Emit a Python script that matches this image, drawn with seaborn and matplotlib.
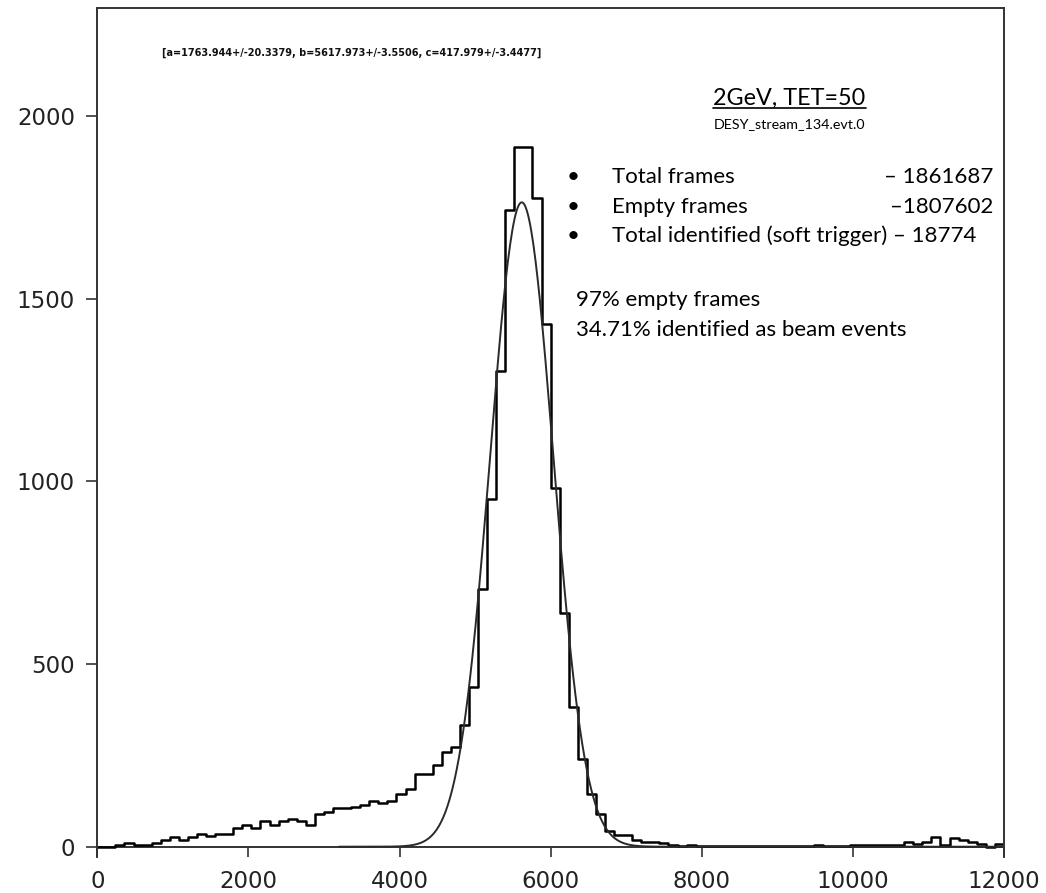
import numpy as np
import pandas as pd
import matplotlib
matplotlib.use("Agg")
import matplotlib.pyplot as plt
from matplotlib.lines import Line2D
import seaborn as sns

# histogram: 100 bins of width 120 between 0 and 12000
bin_edges = list(range(0, 12001, 120))
counts = [
    0, 0, 5, 11, 5, 5, 11, 17, 26, 17,
    26, 35, 30, 35, 35, 51, 60, 51, 71, 60,
    71, 75, 71, 60, 90, 96, 105, 105, 110, 114,
    125, 119, 125, 144, 159, 200, 200, 224, 260, 274,
    333, 437, 705, 952, 1303, 1742, 1916, 1916, 1776, 1431,
    983, 640, 382, 240, 145, 90, 44, 31, 31, 19,
    14, 14, 10, 5, 3, 5, 3, 2, 2, 2,
    2, 2, 2, 2, 2, 2, 2, 2, 2, 6,
    2, 2, 2, 6, 6, 6, 6, 6, 6, 14,
    7, 14, 27, 6, 23, 18, 14, 7, 0, 7,
]

# gaussian fit result printed on the plot
fit_a, fit_b, fit_c = 1763.944, 5617.973, 417.979
fit_err = (20.3379, 3.5506, 3.4477)
fit_xmin, fit_xmax = 3200, 12000

title = "2GeV, TET=50"
subtitle = "DESY_stream_134.evt.0"
bullets = [("Total frames", "\u2013 1861687"),
           ("Empty frames", "\u20131807602"),
           ("Total identified (soft trigger) \u2013 18774", "")]
notes = ["97% empty frames", "34.71% identified as beam events"]

sns.set_style("white")
plt.rcParams["font.family"] = ["DejaVu Sans"]

fig = plt.figure(figsize=(10.46, 8.93), dpi=100)
ax = fig.add_axes([0.0930, 0.0408, 0.8668, 0.9499])

hist_df = pd.DataFrame({"x": [e + 60 for e in bin_edges[:-1]], "count": counts})
sns.histplot(data=hist_df, x="x", weights="count", bins=bin_edges,
             element="step", fill=False, color="black", linewidth=1.8, ax=ax)

xf = np.linspace(fit_xmin, fit_xmax, 600)
yf = fit_a * np.exp(-(xf - fit_b) ** 2 / (2 * fit_c ** 2))
sns.lineplot(x=xf, y=yf, color="#2a2a2a", linewidth=1.4, ax=ax)

ax.set_xlim(0, 12000)
ax.set_ylim(-27, 2295)
ax.set_xticks(range(0, 12001, 2000))
ax.set_yticks(range(0, 2001, 500))
ax.set_xlabel("")
ax.set_ylabel("")
for s in ["left", "right", "top"]:
    ax.spines[s].set_color("#333333")
    ax.spines[s].set_linewidth(1.4)
ax.spines["bottom"].set_visible(False)
ax.axhline(0, color="#333333", linewidth=1.4, zorder=1)
ax.tick_params(axis="x", direction="in", length=7.3, width=1.2, color="#333333",
               labelsize=16.5, pad=10, bottom=True)
ax.tick_params(axis="y", direction="out", length=8, width=1.2, color="#333333",
               labelsize=16.5, pad=8, left=True)
for lab in ax.get_xticklabels() + ax.get_yticklabels():
    lab.set_color("#222222")

fit_txt = (f"[a={fit_a}+/-{fit_err[0]}, b={fit_b}+/-{fit_err[1]}, "
           f"c={fit_c}+/-{fit_err[2]}]")
ax.text(858, 2173, fit_txt, fontsize=7, fontweight="bold", va="center",
        ha="left", color="#111111", family=["DejaVu Sans"])

tfont = ["Lato", "DejaVu Sans"]
t = ax.text(9161, 2048, title, fontsize=16.8, ha="center", va="center",
            family=tfont, color="black")
ax.text(9161, 1978, subtitle, fontsize=10.3, ha="center", va="center",
        family=tfont, color="black")

fig.canvas.draw()
bb = t.get_window_extent(fig.canvas.get_renderer())
fig.add_artist(Line2D([bb.x0, bb.x1], [bb.y0 + 1, bb.y0 + 1], color="black",
                      linewidth=1.2, transform=None))

ys = [1834, 1752, 1672]
for (lbl, val), y in zip(bullets, ys):
    ax.text(6300, y, "\u2022", fontsize=16, ha="center", va="center",
            family=tfont, color="black")
    ax.text(6808, y, lbl, fontsize=16, ha="left", va="center", family=tfont,
            color="black")
    if val:
        ax.text(11858, y, val, fontsize=16, ha="right", va="center",
                family=tfont, color="black")

ax.text(6336, 1496, notes[0], fontsize=16, ha="left", va="center",
        family=tfont, color="black")
ax.text(6336, 1414, notes[1], fontsize=16, ha="left", va="center",
        family=tfont, color="black")

fig.savefig("out.png", dpi=100)
